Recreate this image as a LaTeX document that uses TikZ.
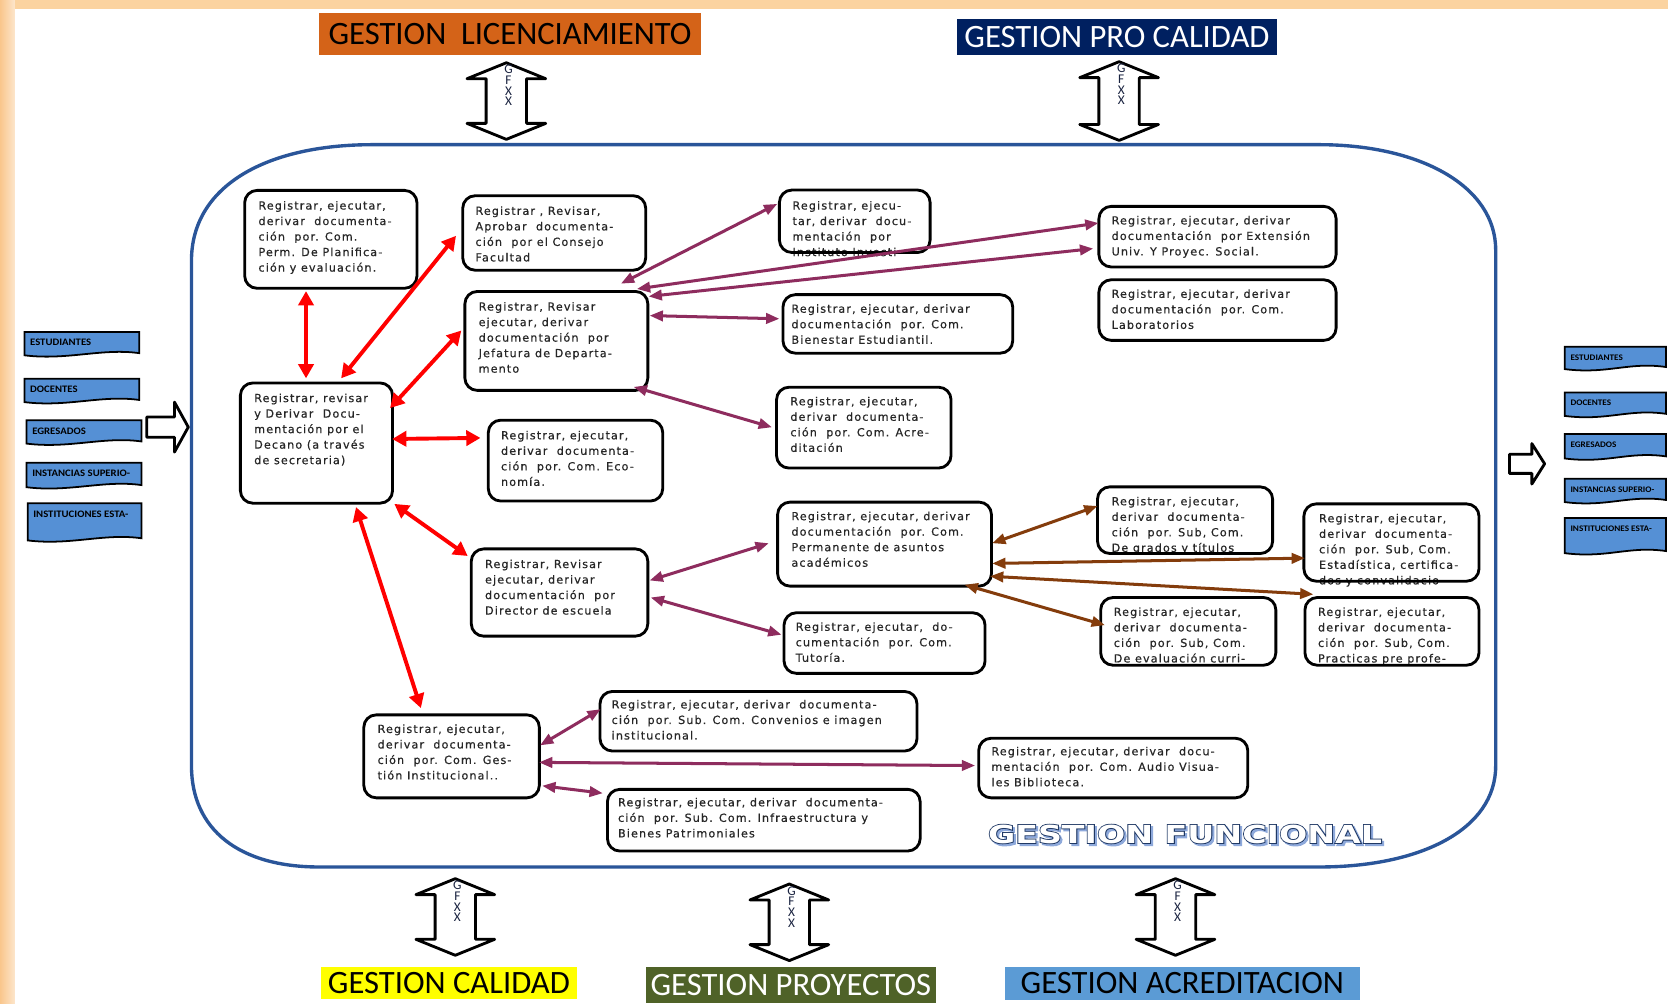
\documentclass[tikz,border=0pt]{standalone}
\usepackage{fontspec}
\usetikzlibrary{arrows.meta,calc,fit}

% fonts
\newfontfamily\boxfont[LetterSpace=10,FakeBold=0.5]{DejaVu Sans}
\newfontfamily\labelfont{Carlito}
\newfontfamily\tagfont[FakeStretch=1.08]{Carlito}
\newfontfamily\titlefont[FakeStretch=1.34]{DejaVu Sans}
\newfontfamily\titlefontheavy[FakeStretch=1.34,FakeBold=7]{DejaVu Sans}

% colours
\definecolor{peach}{HTML}{FBD3A0}
\definecolor{peachdark}{HTML}{F9C68C}
\definecolor{peachlight}{HTML}{FDE6CC}
\definecolor{licorange}{HTML}{D46318}
\definecolor{navylab}{HTML}{002060}
\definecolor{yellowlab}{HTML}{FFFF00}
\definecolor{greenlab}{HTML}{4F6228}
\definecolor{bluelab}{HTML}{5B9BD5}
\definecolor{docblue}{HTML}{5590D5}
\definecolor{frameblue}{HTML}{2A5599}
\definecolor{purp}{HTML}{8E2C5E}
\definecolor{brn}{HTML}{843C0C}
\definecolor{titlenavy}{HTML}{1F3864}
\definecolor{titleshadow}{HTML}{8EA9DB}
\definecolor{gfxcol}{HTML}{1A2340}

% vertical hollow double arrow: centre x, top tip y, bottom tip y
\newcommand\vdarrow[3]{%
  \draw[hollow] (#1,#2) -- ({#1+37},{#2+15}) -- ({#1+19},{#2+15})
    -- ({#1+19},{#3-15}) -- ({#1+37},{#3-15}) -- (#1,#3)
    -- ({#1-37},{#3-15}) -- ({#1-19},{#3-15}) -- ({#1-19},{#2+15})
    -- ({#1-37},{#2+15}) -- cycle;}

% document shape with wavy bottom: name, x1, y1, x2, y2, text style, text
\newcommand\docshape[7]{%
  \draw[doc] (#2,#3) -- (#4,#3) -- (#4,{#5-1})
    .. controls ({#4-35},{#5-6}) and ({#2+40},{#5+6}) .. (#2,{#5+1}) -- cycle;
  \node[#6] (#1) at ({#2+5},{#3+10}) {#7};}

\begin{document}
\begin{tikzpicture}[x=0.6pt,y=-0.6pt,
  box/.style={draw=black, line width=1.6pt, fill=white, rounded corners=7pt, inner sep=0pt},
  boxfill/.style={fill=white, rounded corners=7pt, inner sep=0pt},
  boxborder/.style={draw=black, line width=1.6pt, rounded corners=7pt},
  boxtext/.style={anchor=north west, inner sep=0pt, align=left, text=black!85,
    font=\boxfont\fontsize{6.3pt}{8.75pt}\selectfont},
  lab/.style={inner sep=0pt, font=\labelfont\fontsize{18.4pt}{20pt}\selectfont},
  hollow/.style={draw=black, line width=1.6pt, fill=white, line join=round},
  gfx/.style={anchor=north, inner sep=0pt, align=center, text=gfxcol,
    font=\labelfont\fontsize{7.5pt}{6pt}\selectfont},
  doc/.style={draw=black, line width=1pt, fill=docblue},
  doctext/.style={anchor=west, inner sep=0pt, text=black,
    font=\tagfont\bfseries\fontsize{5.6pt}{6pt}\selectfont},
  doctextsmall/.style={anchor=west, inner sep=0pt, text=black,
    font=\tagfont\bfseries\fontsize{4.8pt}{5.2pt}\selectfont},
  redarr/.style={draw=red, line width=2.2pt,
    {Triangle[length=8pt,width=8.5pt]}-{Triangle[length=8pt,width=8.5pt]}},
  purarr/.style={draw=purp, line width=1.7pt,
    {Triangle[length=7.5pt,width=5.8pt]}-{Triangle[length=7.5pt,width=5.8pt]}},
  brnarr/.style={draw=brn, line width=1.7pt,
    {Triangle[length=7.5pt,width=5.8pt]}-{Triangle[length=7.5pt,width=5.8pt]}}
]
\useasboundingbox (0,0) rectangle (1568,943);

% page background and glow frame
\fill[white] (0,0) rectangle (1568,943);
\fill[peach] (0,0) rectangle (1568,8);
\shade[left color=peachdark, right color=peachlight] (0,0) rectangle (14,943);

% management areas around the core
\node[lab, fill=licorange, text=black, minimum width=215.4pt, minimum height=24pt] (lic) at (479.5,32) {GESTION\ \ LICENCIAMIENTO};
\node[lab, fill=navylab, text=white, minimum width=180pt, minimum height=20.4pt] (proc) at (1050,35) {GESTION PRO CALIDAD};
\node[lab, fill=yellowlab, text=black, minimum width=144pt, minimum height=18pt] (cal) at (422,924) {GESTION CALIDAD};
\node[lab, fill=greenlab, text=white, minimum width=163.8pt, minimum height=20.4pt] (proy) at (743.5,926) {GESTION PROYECTOS};
\node[lab, fill=bluelab, text=black, minimum width=199.8pt, minimum height=18.6pt] (acr) at (1111.5,924.5) {GESTION ACREDITACION};

% exchange arrows with the areas
\vdarrow{476}{59}{131}
\node[gfx] (g1) at (478,61) {G\\F\\X\\X};
\vdarrow{1052}{58}{132}
\node[gfx] (g2) at (1054,60) {G\\F\\X\\X};
\vdarrow{428}{826}{898}
\node[gfx] (g3) at (430,828) {G\\F\\X\\X};
\vdarrow{742}{831}{903}
\node[gfx] (g4) at (744,833) {G\\F\\X\\X};
\vdarrow{1105}{826}{898}
\node[gfx] (g5) at (1107,828) {G\\F\\X\\X};

% functional management boundary
\draw[frameblue, line width=1.9pt]
  (350,136) -- (1240,136) .. controls (1335,136) and (1406,175) .. (1406,235)
  -- (1406,720) .. controls (1406,780) and (1335,815) .. (1240,815)
  -- (300,815) .. controls (225,815) and (180,780) .. (180,720)
  -- (180,245) .. controls (180,175) and (250,136) .. (350,136) -- cycle;

% inputs
\docshape{in1}{23}{312}{131}{333}{doctext}{ESTUDIANTES}
\docshape{in2}{23}{356}{131}{377}{doctext}{DOCENTES}
\docshape{in3}{25}{395}{133}{416}{doctext}{EGRESADOS}
\docshape{in4}{25}{435}{133}{457}{doctext}{INSTANCIAS SUPERIO-}
\docshape{in5}{26}{473}{133}{507}{doctext}{INSTITUCIONES ESTA-}
\draw[hollow] (138,392) -- (164,392) -- (164,378) -- (177,401.5) -- (164,425)
  -- (164,411) -- (138,411) -- cycle;

% outputs
\docshape{out1}{1471}{326}{1566}{346}{doctextsmall}{ESTUDIANTES}
\docshape{out2}{1471}{369}{1566}{390}{doctextsmall}{DOCENTES}
\docshape{out3}{1471}{408}{1566}{430}{doctextsmall}{EGRESADOS}
\docshape{out4}{1471}{450}{1566}{471}{doctextsmall}{INSTANCIAS SUPERIO-}
\docshape{out5}{1471}{487}{1566}{519}{doctextsmall}{INSTITUCIONES ESTA-}
\draw[hollow] (1419,427) -- (1440,427) -- (1440,417) -- (1452,436) -- (1440,455)
  -- (1440,445) -- (1419,445) -- cycle;

% units
\node[box, fit={(230,179)(392,271)}] (A) {};
\node[box, fit={(435,184)(607,254)}] (B) {};
\node[box, fit={(226,360)(369,473)}] (C) {};
\node[box, fit={(437,274)(609,367)}] (D) {};
\node[box, fit={(459,395)(623,471)}] (E) {};
\node[boxfill, fit={(733,179)(874,237)}] (F) {};
\node[box, fit={(1033,194)(1256,251)}] (G) {};
\node[box, fit={(1033,263)(1256,320)}] (H) {};
\node[box, fit={(736,277)(952,332)}] (I) {};
\node[box, fit={(730,364)(894,440)}] (J) {};
\node[box, fit={(731,472)(932,551)}] (K) {};
\node[box, fit={(443,516)(609,598)}] (L) {};
\node[box, fit={(737,576)(926,633)}] (M) {};
\node[boxfill, fit={(1032,458)(1196,520)}] (N) {};
\node[boxfill, fit={(1226,474)(1390,546)}] (O) {};
\node[boxfill, fit={(1035,562)(1199,625)}] (P) {};
\node[boxfill, fit={(1227,562)(1390,625)}] (Q) {};
\node[box, fit={(342,672)(507,750)}] (R) {};
\node[box, fit={(564,650)(862,706)}] (S) {};
\node[box, fit={(920,694)(1173,750)}] (T) {};
\node[box, fit={(571,742)(865,800)}] (U) {};

\node[boxtext] (tA) at ($(A.north west)+(14,11)$) {Registrar, ejecutar,\\derivar\ \ documenta-\\ción\ \ por. Com.\\Perm. De Planifica-\\ción y evaluación.};
\node[boxtext] (tB) at ($(B.north west)+(13,11)$) {Registrar , Revisar,\\Aprobar\ \ documenta-\\ción\ \ por el Consejo\\Facultad};
\node[boxtext] (tC) at ($(C.north west)+(14,11)$) {Registrar, revisar\\y Derivar\ \ Docu-\\mentación por el\\Decano (a través\\de secretaria)};
\node[boxtext] (tD) at ($(D.north west)+(14,11)$) {Registrar, Revisar\\ejecutar, derivar\\documentación\ \ por\\Jefatura de Departa-\\mento};
\node[boxtext] (tE) at ($(E.north west)+(13,11)$) {Registrar, ejecutar,\\derivar\ \ documenta-\\ción\ \ por. Com. Eco-\\nomía.};
\node[boxtext] (tF) at ($(F.north west)+(12,10)$) {Registrar, ejecu-\\tar, derivar\ \ docu-\\mentación\ \ por\\Instituto Investi};
\node[boxtext] (tG) at ($(G.north west)+(13,10)$) {Registrar, ejecutar, derivar\\documentación\ \ por Extensión\\Univ. Y Proyec. Social.};
\node[boxtext] (tH) at ($(H.north west)+(13,10)$) {Registrar, ejecutar, derivar\\documentación\ \ por. Com.\\Laboratorios};
\node[boxtext] (tI) at ($(I.north west)+(9,10)$) {Registrar, ejecutar, derivar\\documentación\ \ por. Com.\\Bienestar Estudiantil.};
\node[boxtext] (tJ) at ($(J.north west)+(14,10)$) {Registrar, ejecutar,\\derivar\ \ documenta-\\ción\ \ por. Com. Acre-\\ditación};
\node[boxtext] (tK) at ($(K.north west)+(14,10)$) {Registrar, ejecutar, derivar\\documentación\ \ por. Com.\\Permanente de asuntos\\académicos};
\node[boxtext] (tL) at ($(L.north west)+(14,11)$) {Registrar, Revisar\\ejecutar, derivar\\documentación\ \ por\\Director de escuela};
\node[boxtext] (tM) at ($(M.north west)+(12,10)$) {Registrar, ejecutar,\ \ do-\\cumentación\ \ por. Com.\\Tutoría.};
\node[boxtext] (tN) at ($(N.north west)+(13,9)$) {Registrar, ejecutar,\\derivar\ \ documenta-\\ción\ \ por. Sub, Com.\\De grados y títulos};
\node[boxtext] (tO) at ($(O.north west)+(14,9)$) {Registrar, ejecutar,\\derivar\ \ documenta-\\ción\ \ por. Sub, Com.\\Estadística, certifica-\\dos y convalidacio};
\node[boxtext] (tP) at ($(P.north west)+(12,9)$) {Registrar, ejecutar,\\derivar\ \ documenta-\\ción\ \ por. Sub, Com.\\De evaluación curri-};
\node[boxtext] (tQ) at ($(Q.north west)+(12,9)$) {Registrar, ejecutar,\\derivar\ \ documenta-\\ción\ \ por. Sub, Com.\\Practicas pre profe-};
\node[boxtext] (tR) at ($(R.north west)+(14,10)$) {Registrar, ejecutar,\\derivar\ \ documenta-\\ción\ \ por. Com. Ges-\\tión Institucional..};
\node[boxtext] (tS) at ($(S.north west)+(12,9)$) {Registrar, ejecutar, derivar\ \ documenta-\\ción\ \ por. Sub. Com. Convenios e imagen\\institucional.};
\node[boxtext] (tT) at ($(T.north west)+(13,9)$) {Registrar, ejecutar, derivar\ \ docu-\\mentación\ \ por. Com. Audio Visua-\\les Biblioteca.};
\node[boxtext] (tU) at ($(U.north west)+(11,9)$) {Registrar, ejecutar, derivar\ \ documenta-\\ción\ \ por. Sub. Com. Infraestructura y\\Bienes Patrimoniales};

% borders that run across overflowing text
\foreach \n in {F,N,O,P,Q}
  \draw[boxborder] (\n.north west) rectangle (\n.south east);

% dean's office links
\draw[redarr] ($(A.north west)+(59,96)$) -- ($(C.north west)+(63,-3)$);
\draw[redarr] ($(C.north west)+(96,-3)$) -- ($(B.north west)+(-5,39)$);
\draw[redarr] ($(C.north west)+(142,25)$) -- ($(D.north west)+(-2,38)$);
\draw[redarr] ($(C.north west)+(144,54)$) -- ($(E.north west)+(-6,18)$);
\draw[redarr] ($(C.north west)+(146,115)$) -- ($(L.north west)+(-2,8)$);
\draw[redarr] ($(C.north west)+(110,118)$) -- ($(R.north west)+(55,-5)$);

% department, school and institutional links
\draw[purarr] ($(D.north west)+(148,-6)$) -- ($(F.north west)+(-2,13)$);
\draw[purarr] ($(D.north west)+(163,-1)$) -- ($(G.north west)+(1,17)$);
\draw[purarr] ($(D.north west)+(174,6)$) -- ($(G.north west)+(-4,41)$);
\draw[purarr] ($(D.north west)+(175,24)$) -- ($(I.north west)+(-2,24)$);
\draw[purarr] ($(D.north west)+(160,91)$) -- ($(J.north west)+(-3,39)$);
\draw[purarr] ($(L.north west)+(169,31)$) -- ($(K.north west)+(-7,40)$);
\draw[purarr] ($(L.north west)+(170,47)$) -- ($(M.north west)+(-1,22)$);
\draw[purarr] ($(R.north west)+(167,30)$) -- ($(S.north west)+(2,18)$);
\draw[purarr] ($(R.north west)+(166,46)$) -- ($(T.north west)+(-2,27)$);
\draw[purarr] ($(R.north west)+(169,68)$) -- ($(U.north west)+(-3,5)$);

% academic affairs sub-committees
\draw[brnarr] ($(K.north west)+(203,40)$) -- ($(N.north west)+(0,18)$);
\draw[brnarr] ($(K.north west)+(203,59)$) -- ($(O.north west)+(1,51)$);
\draw[brnarr] ($(K.north west)+(201,71)$) -- ($(Q.north west)+(8,-3)$);
\draw[brnarr] ($(K.north west)+(177,79)$) -- ($(P.north west)+(4,26)$);

% area title
\node[text=titleshadow, font=\titlefontheavy\bfseries\fontsize{14pt}{16pt}\selectfont] (funcs) at (1116,786) {GESTION FUNCIONAL};
\node[text=titlenavy, font=\titlefontheavy\bfseries\fontsize{14pt}{16pt}\selectfont] (funco) at (1114,784) {GESTION FUNCIONAL};
\node[text=white, font=\titlefont\bfseries\fontsize{14pt}{16pt}\selectfont] (func) at (1114,784) {GESTION FUNCIONAL};
\end{tikzpicture}
\end{document}
